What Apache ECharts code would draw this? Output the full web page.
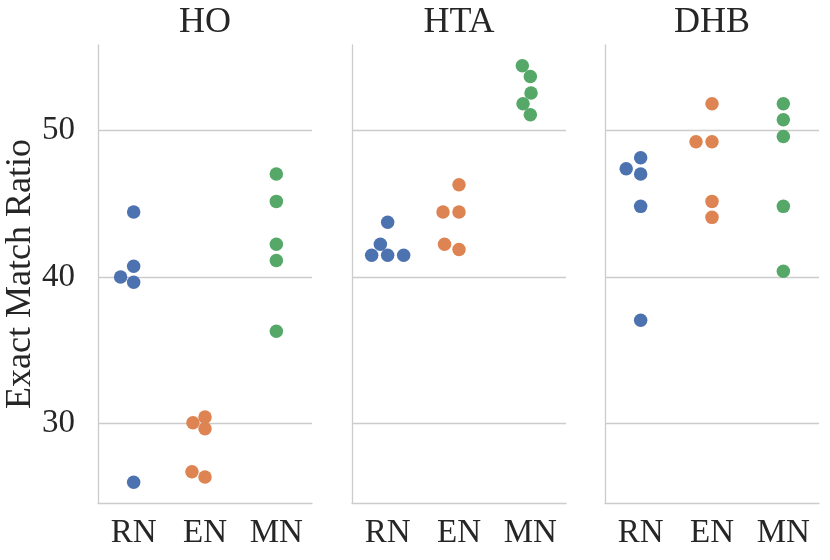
<!DOCTYPE html>
<html>
<head>
<meta charset="utf-8">
<script src="https://cdn.jsdelivr.net/npm/echarts@6/dist/echarts.min.js"></script>
<style>
html,body{margin:0;padding:0;background:#fff;}
#chart{width:830px;height:560px;}
</style>
</head>
<body>
<div id="chart"></div>
<script>
// ---- data ----
const panels = ['HO', 'HTA', 'DHB'];
const categories = ['RN', 'EN', 'MN'];
const yTicks = [30, 40, 50];
const yLabel = 'Exact Match Ratio';

const HO_RN = [44.44, 40.73, 40.0, 39.64, 26.0];
const HO_EN = [30.05, 30.44, 29.64, 26.71, 26.35];
const HO_MN = [47.03, 45.16, 42.23, 41.12, 36.30];
const HTA_RN = [43.73, 42.23, 41.48, 41.48, 41.48];
const HTA_EN = [46.30, 44.44, 44.44, 42.23, 41.87];
const HTA_MN = [54.41, 53.68, 52.55, 51.82, 51.07];
const DHB_RN = [48.14, 47.39, 47.03, 44.82, 37.05];
const DHB_EN = [51.82, 49.23, 49.23, 45.16, 44.07];
const DHB_MN = [51.82, 50.73, 49.59, 44.82, 40.39];

const panelData = [
  [HO_RN, HO_EN, HO_MN],
  [HTA_RN, HTA_EN, HTA_MN],
  [DHB_RN, DHB_EN, DHB_MN]
];

// ---- style / layout ----
const colors = ['#4C72B0', '#DD8452', '#55A868'];
const FONT = '"Liberation Serif", "Times New Roman", serif';
const TEXT = '#262626';
const GRIDC = '#cccccc';
const gridLefts = [98, 352, 605];
const gridTop = 45, gridW = 214, gridH = 458;
const bandPx = gridW / categories.length;
const markerSize = 13.5;
const swarmD = 15.24;      // swarm collision diameter (px)
const swarmAxisH = 565;    // vertical scale used during swarm layout

// y range: data extent padded by 5%
function padRange(arrs) {
  let lo = Infinity, hi = -Infinity;
  arrs.forEach(a => a.forEach(v => { lo = Math.min(lo, v); hi = Math.max(hi, v); }));
  const r = hi - lo;
  return [lo - 0.05 * r, hi + 0.05 * r];
}
const allArrs = [].concat(...panelData);
const [yMin, yMax] = padRange(allArrs);

// beeswarm layout (sorted by value, nearest non-overlapping candidate)
function beeswarm(values, pxPerUnit, d) {
  const idx = values.map((v, i) => i).sort((a, b) => values[a] - values[b]);
  const placed = [];
  const offs = new Array(values.length).fill(0);
  for (const i of idx) {
    const y = values[i] * pxPerUnit;
    const nb = [];
    for (let k = placed.length - 1; k >= 0; k--) {
      if (y - placed[k].y < d) nb.push(placed[k]); else break;
    }
    const cands = [0];
    let leftFirst = true;
    for (const p of nb) {
      const dy = y - p.y;
      const dx = Math.sqrt(Math.max(d * d - dy * dy, 0)) * 1.05;
      if (leftFirst) cands.push(p.x - dx, p.x + dx); else cands.push(p.x + dx, p.x - dx);
      leftFirst = !leftFirst;
    }
    const sorted = cands.map((x, k) => ({ x, k }))
      .sort((a, b) => (Math.abs(a.x) - Math.abs(b.x)) || (a.k - b.k));
    let chosen = 0;
    for (const c of sorted) {
      if (nb.every(p => (c.x - p.x) ** 2 + (y - p.y) ** 2 >= d * d * 0.999)) { chosen = c.x; break; }
    }
    placed.push({ x: chosen, y });
    offs[i] = chosen;
  }
  return offs;
}

const grid = [], xAxis = [], yAxis = [], series = [], graphic = [];
panels.forEach((name, g) => {
  grid.push({ left: gridLefts[g], top: gridTop, width: gridW, height: gridH });
  xAxis.push({
    gridIndex: g, type: 'category', data: categories, boundaryGap: true, position: 'bottom',
    axisLine: { show: true, onZero: false, lineStyle: { color: GRIDC, width: 1.3 } },
    axisTick: { show: false },
    axisLabel: { fontFamily: FONT, fontSize: 33, color: TEXT, margin: 14 },
    splitLine: { show: false }
  });
  xAxis.push({ gridIndex: g, type: 'value', min: -0.5, max: categories.length - 0.5, show: false, position: 'bottom',
    axisLine: { onZero: false }, splitLine: { show: false } });
  yAxis.push({
    gridIndex: g, type: 'value', min: yMin, max: yMax, position: 'left',
    name: g === 0 ? yLabel : '', nameLocation: 'middle', nameGap: 50,
    nameTextStyle: { fontFamily: FONT, fontSize: 36, color: TEXT },
    axisLine: { show: true, onZero: false, lineStyle: { color: GRIDC, width: 1.3 } },
    axisTick: { show: false, customValues: yTicks },
    axisLabel: { show: g === 0, customValues: yTicks, fontFamily: FONT, fontSize: 33, color: TEXT, margin: 23 },
    splitLine: { show: true, lineStyle: { color: GRIDC, width: 1.3 } }
  });
  // swarm layout uses the y range of panels drawn so far
  const [lo, hi] = padRange([].concat(...panelData.slice(0, g + 1)));
  const pxPerUnit = swarmAxisH / (hi - lo);
  panelData[g].forEach((vals, c) => {
    const offs = beeswarm(vals, pxPerUnit, swarmD);
    series.push({
      type: 'scatter', xAxisIndex: 2 * g + 1, yAxisIndex: g,
      symbolSize: markerSize, itemStyle: { color: colors[c], opacity: 1 },
      data: vals.map((v, i) => [c + offs[i] / bandPx, v]),
      emphasis: { disabled: true }, silent: true
    });
  });
  graphic.push({
    type: 'text', x: gridLefts[g] + gridW / 2, y: 23,
    style: { text: name, font: '36px ' + FONT, fill: TEXT, align: 'center', verticalAlign: 'middle' }
  });
});

const chart = echarts.init(document.getElementById('chart'), null, { renderer: 'canvas' });
chart.setOption({
  animation: false,
  backgroundColor: '#ffffff',
  grid, xAxis, yAxis, series, graphic
});
</script>
</body>
</html>
